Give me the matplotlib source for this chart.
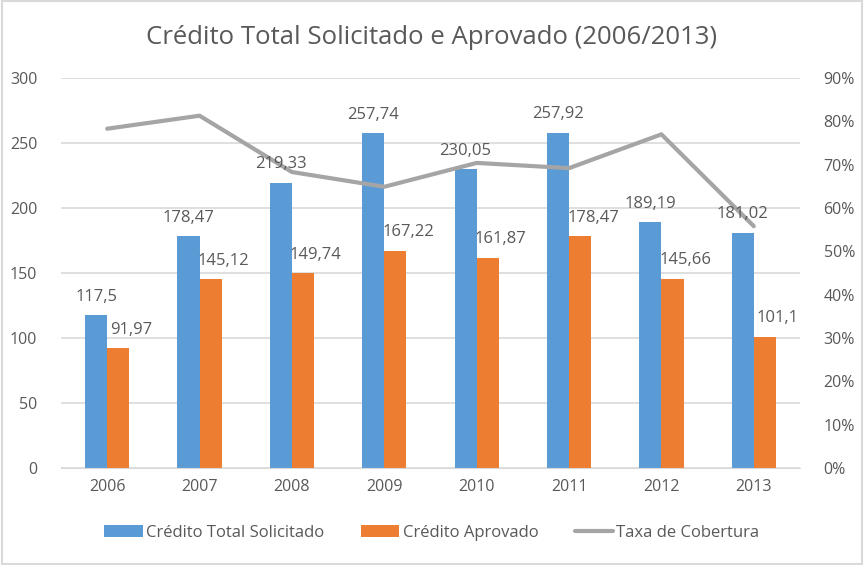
import numpy as np
import matplotlib.pyplot as plt
from matplotlib.ticker import FuncFormatter
from matplotlib.patches import Rectangle

plt.rcParams['font.family'] = ['Open Sans', 'DejaVu Sans']

anos = ["2006", "2007", "2008", "2009", "2010", "2011", "2012", "2013"]
solicitado = [117.5, 178.47, 219.33, 257.74, 230.05, 257.92, 189.19, 181.02]
aprovado = [91.97, 145.12, 149.74, 167.22, 161.87, 178.47, 145.66, 101.1]
taxa = [78.3, 81.3, 68.3, 64.9, 70.4, 69.2, 77.0, 55.8]

azul = "#5B9BD5"
laranja = "#ED7D31"
cinza = "#A5A5A5"
texto = "#595959"

def fmt(v):
    s = ("%.2f" % v).rstrip("0").rstrip(".")
    return s.replace(".", ",")

fig = plt.figure(figsize=(8.64, 5.65), dpi=100)
fig.patches.append(Rectangle((0.002, 0.002), 0.996, 0.996, transform=fig.transFigure,
                             fill=False, edgecolor="#D9D9D9", linewidth=1.5))
ax = fig.add_axes([61 / 864, 1 - 468 / 565, 739 / 864, 390 / 565])
ax2 = ax.twinx()

x = np.arange(len(anos))
w = 0.24
b1 = ax.bar(x - w / 2, solicitado, w, color=azul, label="Crédito Total Solicitado", zorder=2)
b2 = ax.bar(x + w / 2, aprovado, w, color=laranja, label="Crédito Aprovado", zorder=2)

ln, = ax2.plot(x, taxa, color=cinza, linewidth=3, solid_capstyle="round", label="Taxa de Cobertura", zorder=2)

# rótulos por cima da linha
for xi, v in zip(x, solicitado):
    ax2.text(xi - w / 2, v + 8, fmt(v), ha="center", va="bottom", fontsize=12, color=texto,
             transform=ax.transData, zorder=5)
for xi, v in zip(x, aprovado):
    ax2.text(xi + w / 2 + 0.14, v + 8, fmt(v), ha="center", va="bottom", fontsize=12, color=texto,
             transform=ax.transData, zorder=5)

ax.set_xlim(-0.5, len(anos) - 0.5)
ax.set_ylim(0, 300)
ax.set_yticks(range(0, 301, 50))
ax2.set_ylim(0, 90)
ax2.set_yticks(range(0, 91, 10))
ax2.yaxis.set_major_formatter(FuncFormatter(lambda v, p: "%d%%" % v))
ax.set_xticks(x)
ax.set_xticklabels(anos)
ax.grid(axis="y", color="#D9D9D9", linewidth=1.2, zorder=0)
ax.set_axisbelow(True)

for a in (ax, ax2):
    for s in a.spines.values():
        s.set_visible(False)
    a.tick_params(length=0, labelsize=11.5, colors=texto)
ax.spines["bottom"].set_visible(True)
ax.spines["bottom"].set_color("#D9D9D9")
ax.tick_params(axis="y", pad=17)
ax.tick_params(axis="x", pad=8)
ax2.tick_params(axis="y", pad=17)

fig.text(0.5, 1 - 38 / 565, "Crédito Total Solicitado e Aprovado (2006/2013)", ha="center", va="center",
         fontsize=18.5, color=texto)
fig.legend(handles=[b1, b2, ln], loc="center", bbox_to_anchor=(0.5, 1 - 533 / 565), ncol=3,
           frameon=False, fontsize=12, labelcolor=texto, handlelength=2.3, handletextpad=0.2,
           columnspacing=2.2)

fig.savefig("out.png", dpi=100)
